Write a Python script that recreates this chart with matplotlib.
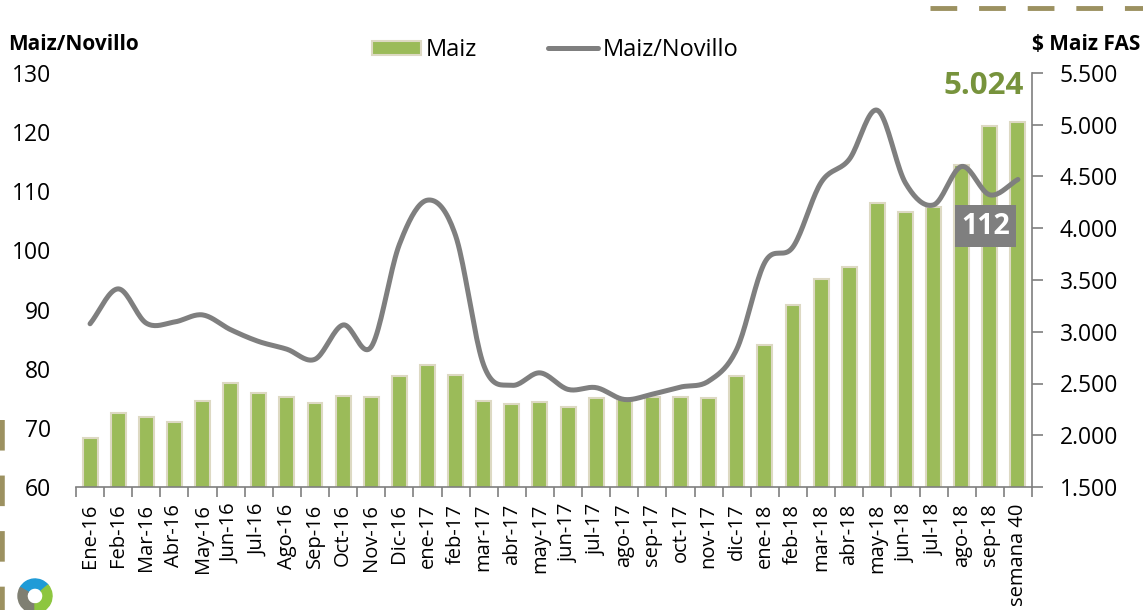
import numpy as np
import matplotlib
matplotlib.use("Agg")
import matplotlib.pyplot as plt
from matplotlib.patches import Patch, Wedge
from matplotlib.lines import Line2D

plt.rcParams['font.family'] = ['Open Sans', 'DejaVu Sans']

categories = ["Ene-16", "Feb-16", "Mar-16", "Abr-16", "May-16", "Jun-16", "Jul-16",
              "Ago-16", "Sep-16", "Oct-16", "Nov-16", "Dic-16", "ene-17", "feb-17",
              "mar-17", "abr-17", "may-17", "jun-17", "jul-17", "ago-17", "sep-17",
              "oct-17", "nov-17", "dic-17", "ene-18", "feb-18", "mar-18", "abr-18",
              "may-18", "jun-18", "jul-18", "ago-18", "sep-18", "semana 40"]

maiz_fas = [1970, 2218, 2173, 2131, 2334, 2508, 2411, 2366, 2315, 2382, 2373, 2575,
            2679, 2579, 2334, 2305, 2324, 2276, 2363, 2347, 2366, 2373, 2363, 2575,
            2875, 3262, 3505, 3630, 4244, 4160, 4202, 4612, 4986, 5024]

maiz_novillo = [87.6, 93.5, 87.7, 87.9, 89.1, 86.6, 84.6, 83.3, 81.6, 87.4, 83.7, 101.0,
                108.5, 102.5, 80.6, 77.2, 79.3, 76.5, 76.8, 74.8, 75.7, 76.9, 77.9, 83.3,
                98.0, 100.6, 111.5, 115.4, 123.7, 111.4, 107.7, 114.2, 109.4, 112.0]

last_maiz_label = "5.024"
last_ratio_label = "112"

left_ticks = [60, 70, 80, 90, 100, 110, 120, 130]
right_ticks = [1500, 2000, 2500, 3000, 3500, 4000, 4500, 5000, 5500]

GREEN = "#9BBB59"
EDGE = "#DDD9C3"
GRAY = "#7F7F7F"
OLIVE = "#9C9160"


def fmt_es(v):
    return f"{v:,.0f}".replace(",", ".")


def catmull_rom(x, y, n=20):
    x = np.asarray(x, float)
    y = np.asarray(y, float)
    px = np.concatenate([[2 * x[0] - x[1]], x, [2 * x[-1] - x[-2]]])
    py = np.concatenate([[2 * y[0] - y[1]], y, [2 * y[-1] - y[-2]]])
    xs, ys = [], []
    t = np.linspace(0, 1, n, endpoint=False)
    for i in range(1, len(px) - 2):
        p0, p1, p2, p3 = (np.array([px[j], py[j]]) for j in range(i - 1, i + 3))
        tt = t[:, None]
        pts = 0.5 * ((2 * p1) + (-p0 + p2) * tt + (2 * p0 - 5 * p1 + 4 * p2 - p3) * tt ** 2
                     + (-p0 + 3 * p1 - 3 * p2 + p3) * tt ** 3)
        xs.extend(pts[:, 0]); ys.extend(pts[:, 1])
    xs.append(x[-1]); ys.append(y[-1])
    return np.array(xs), np.array(ys)


fig = plt.figure(figsize=(11.43, 6.10), dpi=100)
ax = fig.add_axes([76 / 1143, 1 - 487 / 610, (1032 - 76) / 1143, (487 - 73) / 610])
x = np.arange(len(categories))

# bars on right axis
ax.bar(x, maiz_fas, width=0.53, color=GREEN, edgecolor=EDGE, linewidth=1.5, zorder=2)
ax.set_ylim(1500, 5500)
ax.set_xlim(-0.5, len(categories) - 0.5)

ax2 = ax.twinx()

ax.yaxis.tick_right()
ax.yaxis.set_label_position("right")
ax.set_yticks(right_ticks)
ax.set_yticklabels([fmt_es(v) for v in right_ticks])
ax.tick_params(axis='y', which='major', direction='out', length=8, width=1.2, color=GRAY,
               labelsize=16.5, pad=12, left=False, labelleft=False, right=True, labelright=True)
for s in ['top', 'left']:
    ax.spines[s].set_visible(False)
ax.spines['right'].set_color(GRAY)
ax.spines['right'].set_linewidth(1.2)
ax.spines['bottom'].set_color(GRAY)
ax.spines['bottom'].set_linewidth(1.2)

ax.set_xticks(x)
ax.set_xticklabels(categories, rotation=90)
ax.set_xticks(np.arange(len(categories) + 1) - 0.5, minor=True)
ax.tick_params(axis='x', which='major', length=0, labelsize=14.5, pad=12)
ax.tick_params(axis='x', which='minor', direction='out', length=7, width=1.2, color=GRAY)

# line on left axis
ax2.set_ylim(60, 130)
ax2.set_yticks(left_ticks)
ax2.tick_params(axis='y', length=0, labelsize=16.5, pad=18,
                left=True, labelleft=True, right=False, labelright=False)
for s in ax2.spines.values():
    s.set_visible(False)
sx, sy = catmull_rom(x, maiz_novillo)
ax2.plot(sx, sy, color=GRAY, linewidth=3.6, solid_capstyle='round', zorder=3)

# annotations
ax.text(x[-1] + 0.2, 5230, last_maiz_label, color="#77933C", fontsize=22.5, fontweight='bold',
        ha='right', va='bottom')
ax2.text(x[-2] - 0.15, 104.1, last_ratio_label, color='white', fontsize=20.5, fontweight='bold',
         ha='center', va='center', zorder=5,
         bbox=dict(boxstyle='square,pad=0.22', fc=GRAY, ec='none'))

# axis titles
fig.text(8 / 1143, 1 - 45 / 610, "Maiz/Novillo", fontsize=15, fontweight='bold',
         ha='left', va='center')
fig.text(1140 / 1143, 1 - 45 / 610, "$ Maiz FAS", fontsize=15, fontweight='bold',
         ha='right', va='center')

# legend
handles = [Patch(facecolor=GREEN, edgecolor=EDGE, linewidth=1.5, label="Maiz"),
           Line2D([0], [0], color=GRAY, linewidth=3.6, solid_capstyle='round', label="Maiz/Novillo")]
fig.legend(handles=handles, loc='center', bbox_to_anchor=(555 / 1143, 1 - 50 / 610), ncol=2,
           frameon=False, fontsize=17, handlelength=2.1, handleheight=0.55,
           handletextpad=0.2, columnspacing=3.0)

# decorative dashed borders
fig.add_artist(Line2D([930 / 1143, 1.0], [1 - 8 / 610, 1 - 8 / 610], transform=fig.transFigure,
                      color=OLIVE, linewidth=3.5, linestyle=(0, (5.5, 4.5))))
fig.add_artist(Line2D([2 / 1143, 2 / 1143], [1 - 420 / 610, 0], transform=fig.transFigure,
                      color=OLIVE, linewidth=4, linestyle=(0, (5.5, 4.5))))

# small logo approximation
fig.add_artist(Wedge((35, 14), 17, 40, 150, width=9, transform=None, color="#1F9BD7"))
fig.add_artist(Wedge((35, 14), 17, 150, 270, width=9, transform=None, color="#7F7F72"))
fig.add_artist(Wedge((35, 14), 17, 270, 400, width=9, transform=None, color="#8DC63F"))

fig.savefig("out.png", dpi=100)
